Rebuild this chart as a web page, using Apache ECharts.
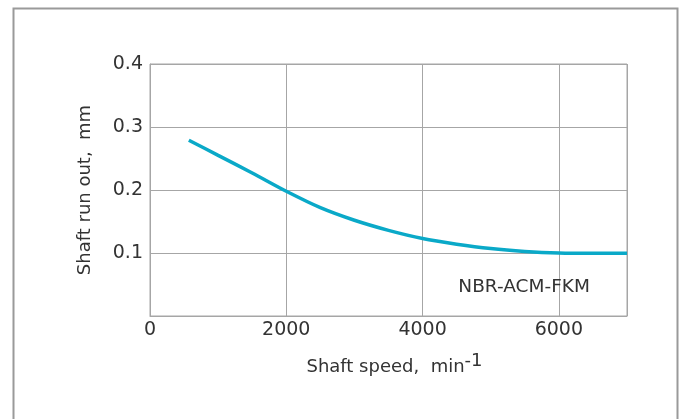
<!DOCTYPE html>
<html>
<head>
<meta charset="utf-8">
<script src="https://cdn.jsdelivr.net/npm/echarts@6/dist/echarts.min.js"></script>
<style>
  html, body { margin: 0; padding: 0; background: #fff; }
  #chart { width: 682px; height: 419px; }
</style>
</head>
<body>
<div id="chart"></div>
<script>
// shaft speed (min-1) and run out (mm)
var speeds = [570, 1000, 1500, 2000, 2500, 3000, 3500, 4000, 4500, 5000, 5500, 6000, 6500, 7000];
var runOut = [0.279, 0.255, 0.227, 0.198, 0.172, 0.152, 0.136, 0.123, 0.114, 0.107, 0.1025, 0.1, 0.0995, 0.0998];
var materialLabel = 'NBR-ACM-FKM';
var labelPos = [5490, 0.046];

var font = 'DejaVu Sans, sans-serif';
var dom = document.getElementById('chart');
var myChart = echarts.init(dom);

var pts = [];
for (var i = 0; i < speeds.length; i++) {
    pts.push([speeds[i], runOut[i]]);
}

var option = {
    animation: false,
    grid: {
        left: 150,
        top: 64,
        right: 55,
        bottom: 103,
        show: true,
        borderColor: '#a6a6a6',
        borderWidth: 1
    },
    graphic: [
        {
            type: 'rect',
            shape: { x: 13.5, y: 8.5, width: 664, height: 430 },
            style: { fill: 'none', stroke: '#9a9a9a', lineWidth: 2 },
            silent: true
        }
    ],
    xAxis: {
        type: 'value',
        min: 0,
        max: 7000,
        interval: 2000,
        name: 'Shaft speed,  min{sup|-1}',
        nameLocation: 'middle',
        nameGap: 36,
        nameTextStyle: {
            color: '#333',
            fontFamily: font,
            fontSize: 18,
            padding: [0, 0, 0, 12],
            rich: {
                sup: { fontSize: 18, fontFamily: font, color: '#333', padding: [0, 0, 12, 0] }
            }
        },
        axisLine: { show: true, lineStyle: { color: '#a6a6a6' } },
        axisTick: { show: false },
        axisLabel: {
            color: '#333',
            fontFamily: font,
            fontSize: 19,
            margin: 5,
            showMaxLabel: false,
            formatter: function (v) { return String(v); }
        },
        splitLine: { show: true, lineStyle: { color: '#a6a6a6', width: 1 } }
    },
    yAxis: {
        type: 'value',
        min: 0,
        max: 0.4,
        interval: 0.1,
        name: 'Shaft run out,  mm',
        nameLocation: 'middle',
        nameGap: 56,
        nameTextStyle: { color: '#333', fontFamily: font, fontSize: 18 },
        axisLine: { show: true, lineStyle: { color: '#a6a6a6' } },
        axisTick: { show: false },
        axisLabel: {
            color: '#333',
            fontFamily: font,
            fontSize: 19,
            margin: 7,
            formatter: function (v) { return v === 0 ? '' : v.toFixed(1); }
        },
        splitLine: { show: true, lineStyle: { color: '#a6a6a6', width: 1 } }
    },
    series: [
        {
            type: 'line',
            data: pts,
            smooth: 0.3,
            showSymbol: false,
            lineStyle: { color: '#0aa9c8', width: 3.5 },
            markPoint: {
                symbol: 'circle',
                symbolSize: 0,
                silent: true,
                data: [{ coord: labelPos }],
                label: {
                    show: true,
                    position: 'inside',
                    formatter: materialLabel,
                    color: '#333',
                    fontFamily: font,
                    fontSize: 18.5
                }
            }
        }
    ]
};

myChart.setOption(option, true);
</script>
</body>
</html>
